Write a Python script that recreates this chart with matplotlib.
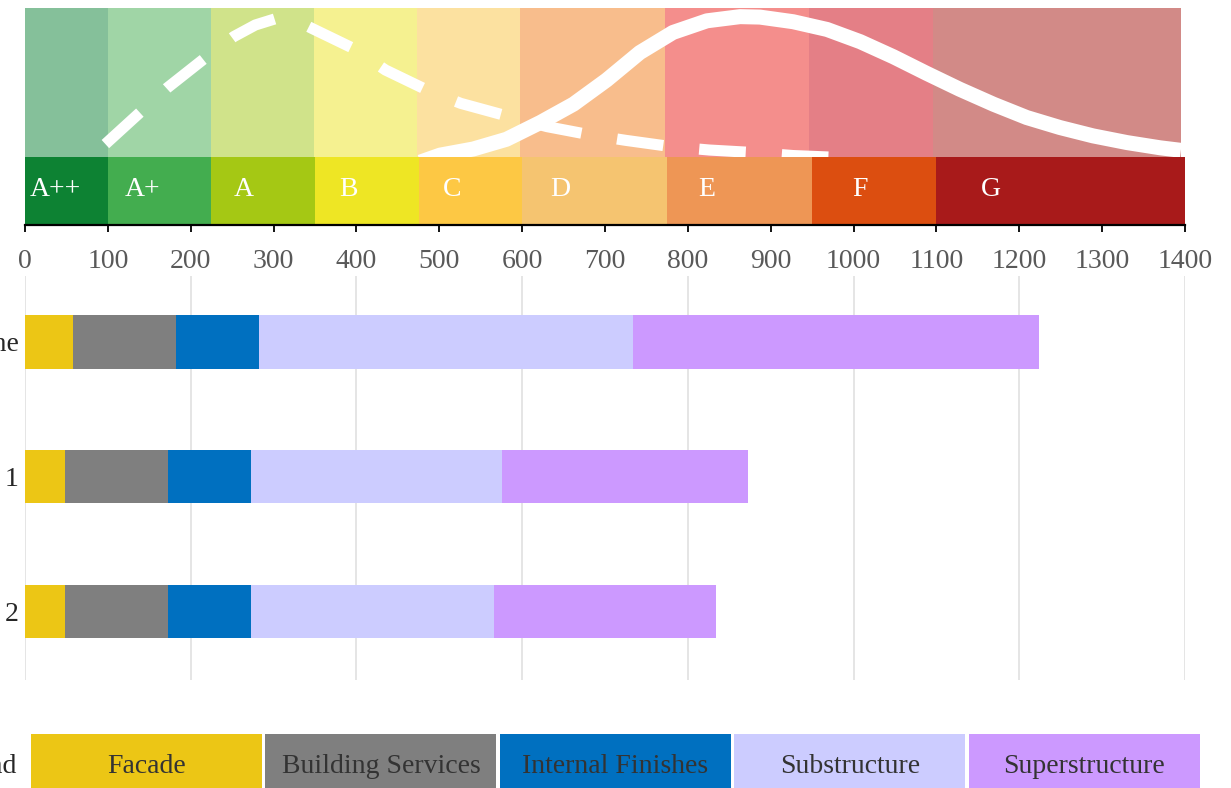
import matplotlib.pyplot as plt
from matplotlib.patches import Rectangle

plt.rcParams['font.family'] = ['Liberation Serif', 'DejaVu Serif']

# rating scale (kgCO2e/m2)
ratings = ['A++', 'A+', 'A', 'B', 'C', 'D', 'E', 'F', 'G']
rating_edges = [0, 100, 225, 350, 475, 600, 775, 950, 1100, 1400]
rating_colors = ['#0d8233', '#43ad4f', '#a5c814', '#eee624', '#fdc844',
                 '#f5c470', '#ee9655', '#dc4e10', '#a81a1a']
band_colors = ['#85c09a', '#a0d5a6', '#d0e38a', '#f5f190', '#fce1a0',
               '#f8bd8c', '#f48e8c', '#e47f86', '#d28a87']
label_x = [6, 120, 252, 379, 504, 634, 812, 998, 1154]

# distribution curves (relative height 0-1)
solid_x = [477, 501, 541, 581, 622, 662, 702, 742, 782, 823, 863, 887, 927,
           968, 1008, 1048, 1088, 1128, 1169, 1209, 1249, 1289, 1330, 1370, 1395]
solid_y = [-0.034, 0.013, 0.054, 0.119, 0.232, 0.355, 0.517, 0.701, 0.836,
           0.914, 0.942, 0.939, 0.908, 0.856, 0.774, 0.673, 0.562, 0.455,
           0.354, 0.265, 0.198, 0.142, 0.097, 0.062, 0.045]
dash_x = [97, 139, 171, 217, 252, 278, 304, 325, 346, 397, 435, 485, 526, 582,
          630, 681, 725, 781, 826, 883, 927, 984]
dash_y = [0.087, 0.300, 0.461, 0.663, 0.808, 0.886, 0.931, 0.923, 0.864, 0.727,
          0.584, 0.450, 0.360, 0.275, 0.204, 0.150, 0.112, 0.069, 0.047, 0.029,
          0.010, -0.003]

# embodied carbon by component
options = ['Baseline', 'Option 1', 'Option 2']
components = ['Facade', 'Building Services', 'Internal Finishes', 'Substructure', 'Superstructure']
comp_colors = ['#ecc615', '#7f7f7f', '#0070c0', '#ccccff', '#cc99ff']
facade = [58, 48, 48]
services = [124, 125, 125]
finishes = [100, 100, 100]
substructure = [452, 303, 293]
superstructure = [490, 297, 268]

W, H = 1231, 788
fig = plt.figure(figsize=(W / 100, H / 100), dpi=100)


def rect(x0, y0, x1, y1):
    # pixel box -> figure fraction
    return [x0 / W, 1 - y1 / H, (x1 - x0) / W, (y1 - y0) / H]


# ---- rating strip ----
ax = fig.add_axes(rect(25, 8, 1185, 225))
ax.set_xlim(0, 1400)
ax.set_ylim(-0.456, 1)
band_scale = 1395 / 1400
for i, r in enumerate(ratings):
    x0, x1 = rating_edges[i], rating_edges[i + 1]
    ax.add_patch(Rectangle((x0 * band_scale, 0), (x1 - x0) * band_scale, 1,
                           color=band_colors[i], lw=0))
    ax.add_patch(Rectangle((x0, -0.45), x1 - x0, 0.45, color=rating_colors[i], lw=0))
    ax.text(label_x[i], -0.262, r, color='white', fontsize=20, va='baseline', ha='left')

clip = Rectangle((0, 0), 1400 * band_scale, 1, transform=ax.transData)
l1, = ax.plot(solid_x, solid_y, color='white', lw=10.8, solid_capstyle='butt',
              solid_joinstyle='round')
l2, = ax.plot(dash_x, dash_y, color='white', lw=8, linestyle=(0, (4.2, 3.25)),
              dash_capstyle='butt', dash_joinstyle='round')
l1.set_clip_path(clip)
l2.set_clip_path(clip)

for s in ['top', 'right', 'left']:
    ax.spines[s].set_visible(False)
ax.spines['bottom'].set_linewidth(1.6)
ax.set_yticks([])
ax.set_xticks(range(0, 1401, 100))
ax.tick_params(axis='x', length=5, width=1.3, pad=12.5, labelsize=20, labelcolor='#595959')

# ---- stacked bars ----
bx = fig.add_axes(rect(25, 276, 1185, 680))
bx.set_xlim(0, 1400)
bx.set_ylim(2.51, -0.49)
series = [facade, services, finishes, substructure, superstructure]
left = [0, 0, 0]
for vals, c in zip(series, comp_colors):
    bx.barh(range(len(options)), vals, left=left, height=0.394, color=c, lw=0, zorder=2)
    left = [a + b for a, b in zip(left, vals)]
bx.set_xticks(range(0, 1401, 200))
bx.set_xticklabels([])
bx.grid(axis='x', color='#e0e0e0', lw=1.2, zorder=0)
bx.set_yticks(range(len(options)))
bx.set_yticklabels(options, fontsize=20, color='#262626')
bx.tick_params(length=0, pad=4.5)
for s in bx.spines.values():
    s.set_visible(False)

# ---- legend row ----
lx = fig.add_axes(rect(0, 734, W, 788))
lx.set_xlim(0, W)
lx.set_ylim(0, 1)
lx.axis('off')
lx.text(17, 0.4, 'Legend', fontsize=20, color='#262626', ha='right', va='center')
box_w, gap, x = 231, 3.4, 31
for name, c in zip(components, comp_colors):
    lx.add_patch(Rectangle((x, 0), box_w, 1, color=c, lw=0))
    lx.text(x + box_w / 2, 0.4, name, fontsize=20, color='#333333', ha='center', va='center')
    x += box_w + gap

fig.savefig('out.png', dpi=100)
